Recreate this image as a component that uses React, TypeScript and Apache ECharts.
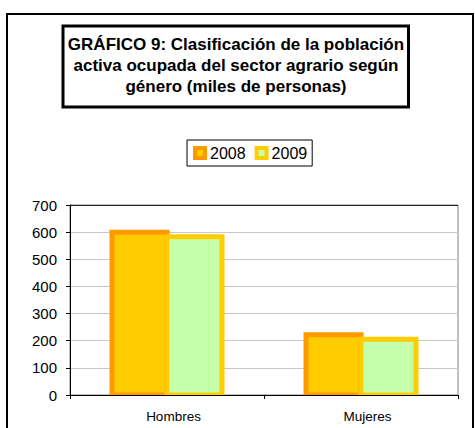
import React, { useEffect, useRef } from 'react';
import * as echarts from 'echarts';

const titleLines = [
  'GRÁFICO 9: Clasificación de la población',
  'activa ocupada del sector agrario según',
  'género (miles de personas)',
];
const categories = ['Hombres', 'Mujeres'];
const seriesNames = ['2008', '2009'];
const values2008 = [600, 222];
const values2009 = [583, 205];
const fillColors = ['#FFCC00', '#C6FFAA'];
const borderColors = ['#FF9900', '#FFCC00'];
const yMin = 0;
const yMax = 700;
const yStep = 100;

const FONT = 'Arial, "Liberation Sans", sans-serif';
const BAR_W = 55;
const BORDER_W = 5;

export default function App() {
  const ref = useRef<HTMLDivElement>(null);
  useEffect(() => {
    if (!ref.current) return;
    const chart = echarts.init(ref.current, undefined, { renderer: 'svg' });
    const seriesValues = [values2008, values2009];
    chart.setOption({
      animation: false,
      backgroundColor: '#ffffff',
      textStyle: { fontFamily: FONT, color: '#000' },
      graphic: [
        {
          type: 'rect',
          shape: { x: 7, y: 14, width: 466, height: 430 },
          style: { fill: 'none', stroke: '#000', lineWidth: 2 },
          silent: true,
        },
        {
          type: 'rect',
          shape: { x: 63, y: 26, width: 345.5, height: 81 },
          style: { fill: '#fff', stroke: '#000', lineWidth: 3 },
          silent: true,
        },
        {
          type: 'text',
          x: 236,
          y: 65,
          style: {
            text: titleLines.join('\n'),
            textAlign: 'center',
            textVerticalAlign: 'middle',
            font: `bold 17px ${FONT}`,
            lineHeight: 21,
            fill: '#000',
          },
          silent: true,
        },
      ],
      legend: {
        left: 187,
        top: 140,
        orient: 'horizontal',
        padding: [5, 5, 5, 6],
        itemGap: 9,
        itemWidth: 10,
        itemHeight: 10,
        borderColor: '#000',
        borderWidth: 1,
        borderRadius: 0,
        textStyle: { fontFamily: FONT, fontSize: 16, color: '#000' },
        data: seriesNames.map((n, i) => ({
          name: n,
          icon: 'rect',
          itemStyle: { color: fillColors[i], borderColor: borderColors[i], borderWidth: 4 },
        })),
      },
      grid: {
        left: 70,
        right: 17,
        top: 205,
        bottom: 33,
        show: true,
        borderColor: '#808080',
        borderWidth: 1,
        containLabel: false,
      },
      xAxis: {
        type: 'category',
        data: categories,
        z: 5,
        axisLine: { lineStyle: { color: '#000', width: 1 } },
        axisTick: { show: true, length: 4, lineStyle: { color: '#000' } },
        axisLabel: {
          fontFamily: FONT,
          fontSize: 13.5,
          color: '#000',
          margin: 14,
          padding: [0, 0, 0, 13],
        },
        splitLine: { show: false },
      },
      yAxis: {
        type: 'value',
        min: yMin,
        max: yMax,
        interval: yStep,
        axisLine: { show: true, lineStyle: { color: '#000', width: 1 } },
        axisTick: { show: true, length: 4, lineStyle: { color: '#000' } },
        axisLabel: { fontFamily: FONT, fontSize: 15, color: '#000', margin: 13 },
        splitLine: {
          show: true,
          lineStyle: {
            color: ['#c8c8c8', '#c8c8c8', '#c8c8c8', '#c8c8c8', '#c8c8c8', '#c8c8c8', '#c8c8c8', '#222'],
            width: 1,
          },
        },
      },
      series: seriesNames.map((n, si) => ({
        name: n,
        type: 'custom',
        clip: true,
        itemStyle: { color: fillColors[si], borderColor: borderColors[si], borderWidth: BORDER_W },
        encode: { x: 0, y: 1 },
        data: seriesValues[si].map((v, ci) => [ci, v]),
        renderItem: (_params: any, api: any) => {
          const idx = api.value(0);
          const v = api.value(1);
          const top = api.coord([idx, v]);
          const base = api.coord([idx, 0]);
          const cx = top[0] + (si === 0 ? -BAR_W / 2 : BAR_W / 2);
          return {
            type: 'rect',
            shape: { x: cx - BAR_W / 2, y: top[1], width: BAR_W, height: base[1] - top[1] },
            style: { fill: fillColors[si], stroke: borderColors[si], lineWidth: BORDER_W },
          };
        },
      })),
    });
    return () => chart.dispose();
  }, []);
  return (
    <div
      ref={ref}
      style={{ position: 'fixed', left: 0, top: 0, width: 475, height: 428 }}
    />
  );
}
